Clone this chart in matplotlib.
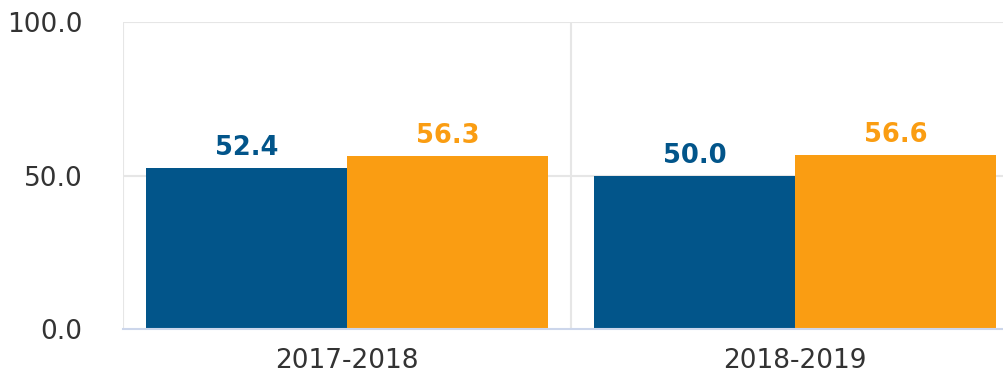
import matplotlib
matplotlib.use("Agg")
import matplotlib.pyplot as plt
import numpy as np

categories = ["2017-2018", "2018-2019"]
series_a = [52.4, 50.0]
series_b = [56.3, 56.6]
y_ticks = [0.0, 50.0, 100.0]

color_a = "#02558A"
color_b = "#FA9D12"
grid_color = "#E6E6E6"
text_color = "#333333"

fig = plt.figure(figsize=(10.04, 3.73), dpi=100)
ax = fig.add_axes([123 / 1004, 1 - 329 / 373, 896 / 1004, 307 / 373])

x = np.arange(len(categories))
w = 0.449
bars_a = ax.bar(x - w / 2, series_a, width=w, color=color_a, zorder=3)
bars_b = ax.bar(x + w / 2, series_b, width=w, color=color_b, zorder=3)

for bars, vals, col in [(bars_a, series_a, color_a), (bars_b, series_b, color_b)]:
    for b, v in zip(bars, vals):
        ax.annotate(f"{v:.1f}", (b.get_x() + b.get_width() / 2, v),
                    xytext=(0, 5), textcoords="offset points",
                    ha="center", va="bottom", fontsize=18.5,
                    fontweight="bold", color=col)

ax.set_xlim(-0.5, len(categories) - 0.5)
ax.set_ylim(0, 100)
ax.set_xticks(x)
ax.set_xticklabels(categories)
ax.set_yticks(y_ticks)
ax.set_yticklabels([f"{t:.1f}" for t in y_ticks])

# horizontal grid
for t in y_ticks[1:]:
    ax.axhline(t, color=grid_color, lw=1.5, zorder=1)
# category separators
for b in np.arange(-0.5, len(categories), 1.0):
    ax.axvline(b, color=grid_color, lw=1.5, zorder=1)

for s in ["top", "right", "left"]:
    ax.spines[s].set_visible(False)
ax.spines["bottom"].set_color("#CCD6EB")
ax.spines["bottom"].set_linewidth(1.5)
ax.spines["bottom"].set_zorder(4)

ax.tick_params(axis="y", length=0, pad=29, labelsize=19, labelcolor=text_color)
ax.tick_params(axis="x", length=0, pad=14, labelsize=19, labelcolor=text_color)

fig.savefig("out.png", dpi=100)
